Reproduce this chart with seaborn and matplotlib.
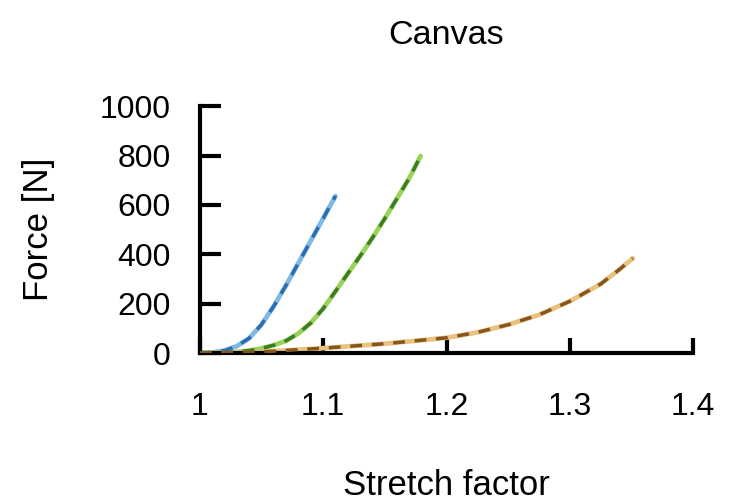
import matplotlib
matplotlib.use("Agg")
import matplotlib.pyplot as plt
import pandas as pd
import seaborn as sns

# --------------------------------------------------------------------------- #
# values
blue_x = [1.0, 1.01, 1.02, 1.03, 1.04, 1.05, 1.06, 1.07, 1.08, 1.09, 1.10, 1.11]
blue_y = [0, 3, 10, 28, 60, 115, 190, 275, 365, 455, 545, 636]

green_x = [1.0, 1.02, 1.03, 1.04, 1.05, 1.06, 1.07, 1.08, 1.09, 1.10, 1.11,
           1.12, 1.13, 1.14, 1.15, 1.16, 1.17, 1.179]
green_y = [0, 2, 5, 10, 19, 32, 50, 80, 122, 180, 250, 322, 393, 467, 545,
           627, 710, 798]

orange_x = [1.0, 1.05, 1.10, 1.15, 1.20, 1.225, 1.25, 1.275, 1.30, 1.325,
            1.34, 1.351]
orange_y = [0, 5, 20, 38, 62, 84, 115, 155, 210, 280, 338, 384]

x_ticks = [1.0, 1.1, 1.2, 1.3, 1.4]
x_labels = ["1", "1.1", "1.2", "1.3", "1.4"]
y_ticks = [0, 200, 400, 600, 800, 1000]
# --------------------------------------------------------------------------- #

SERIES = {
    "blue": (blue_x, blue_y, "#80b9e4", "#2a6db5"),
    "green": (green_x, green_y, "#9ad35a", "#3b7d24"),
    "orange": (orange_x, orange_y, "#e8c27f", "#87561f"),
}

rows = []
for name, (xs, ys, _, _) in SERIES.items():
    rows += [dict(series=name, stretch=x, force=y) for x, y in zip(xs, ys)]
df = pd.DataFrame(rows)

sns.set_style("ticks")
plt.rcParams["font.family"] = ["Liberation Sans", "DejaVu Sans"]
for k in ["text.color", "axes.labelcolor", "xtick.color", "ytick.color"]:
    plt.rcParams[k] = "black"

fig = plt.figure(figsize=(7.29, 5.03), dpi=100)
ax = fig.add_axes([0.274, 0.298, 0.677, 0.491])

light = {k: v[2] for k, v in SERIES.items()}
dark = {k: v[3] for k, v in SERIES.items()}

sns.lineplot(data=df, x="stretch", y="force", hue="series", palette=light,
             linewidth=3.4, legend=False, ax=ax, zorder=2)
sns.lineplot(data=df, x="stretch", y="force", hue="series", palette=dark,
             linewidth=2.5, legend=False, ax=ax, zorder=3)
for line in ax.get_lines()[:3]:
    line.set_solid_capstyle("round")
    line.set_solid_joinstyle("round")
for line in ax.get_lines()[3:]:
    line.set_dashes([3.4, 2.8])

ax.set_xlim(1.0, 1.4)
ax.set_ylim(0, 1000)
ax.set_xticks(x_ticks)
ax.set_xticklabels(x_labels)
ax.set_yticks(y_ticks)

for s in ["top", "right"]:
    ax.spines[s].set_visible(False)
for s in ["left", "bottom"]:
    ax.spines[s].set_linewidth(3)
    ax.spines[s].set_color("black")
    ax.spines[s].set_capstyle("projecting")

ax.tick_params(axis="x", direction="in", length=11, width=3,
               labelsize=23, pad=28)
ax.tick_params(axis="y", direction="in", length=15, width=3,
               labelsize=23, pad=21)

ax.set_xlabel("Stretch factor", fontsize=25, labelpad=34)
ax.set_ylabel("Force [N]", fontsize=25, labelpad=32)
ax.set_title("Canvas", fontsize=24.5, pad=45)

fig.savefig("out.png", dpi=100)
